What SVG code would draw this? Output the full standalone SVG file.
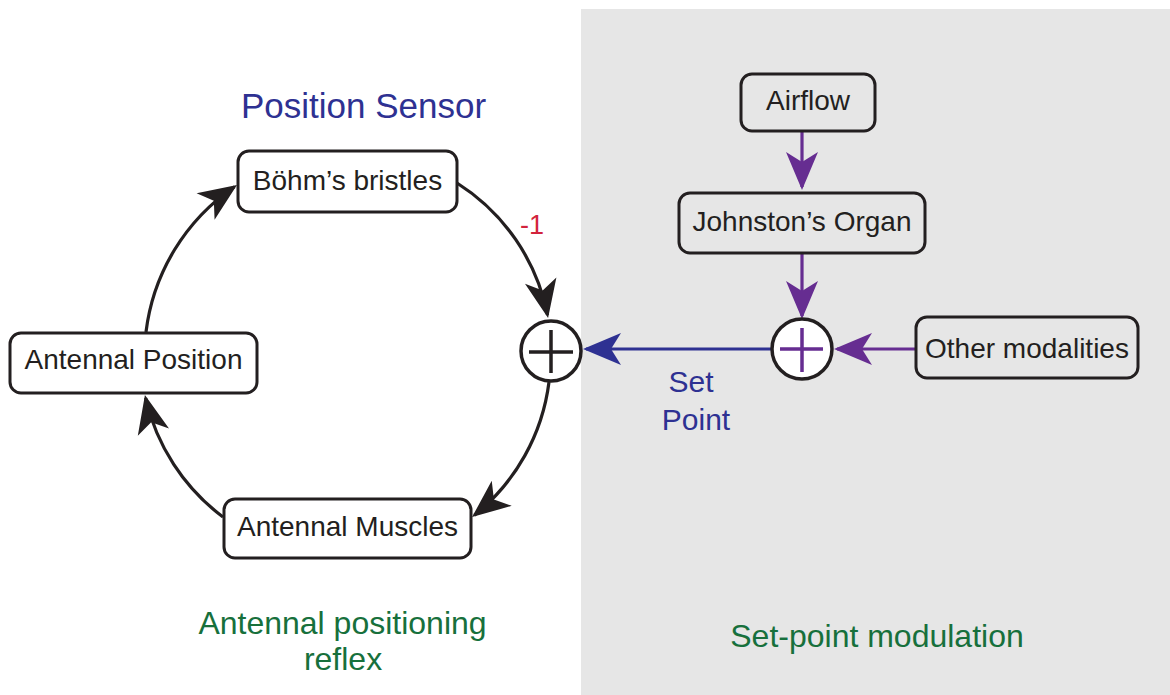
<svg xmlns="http://www.w3.org/2000/svg" width="1170" height="695" viewBox="0 0 1170 695">
<style>
text{font-family:"Liberation Sans",Arial,sans-serif}
.box{fill:#ffffff;stroke:#231f20;stroke-width:3}
.boxg{fill:none;stroke:#231f20;stroke-width:3}
.lbl{font-size:28px;fill:#231f20;text-anchor:middle}
.sum{fill:#ffffff;stroke:#231f20;stroke-width:3.5}
.k{fill:none;stroke:#231f20;stroke-width:3.2}
.blue{fill:#2e3192}
.green{fill:#17703c}
</style>
<defs>
<marker id="ak" markerUnits="userSpaceOnUse" markerWidth="50" markerHeight="40" viewBox="-45 -20 50 40" refX="-3" refY="0" orient="auto" overflow="visible"><path d="M0,0 L-38,-16 L-28,0 L-38,16 Z" fill="#231f20"/></marker>
<marker id="ab" markerUnits="userSpaceOnUse" markerWidth="50" markerHeight="40" viewBox="-45 -20 50 40" refX="-3" refY="0" orient="auto" overflow="visible"><path d="M0,0 L-38,-16 L-28,0 L-38,16 Z" fill="#2e3192"/></marker>
<marker id="ap" markerUnits="userSpaceOnUse" markerWidth="50" markerHeight="40" viewBox="-45 -20 50 40" refX="-3" refY="0" orient="auto" overflow="visible"><path d="M0,0 L-38,-16 L-28,0 L-38,16 Z" fill="#662d91"/></marker>
</defs>
<rect x="0" y="0" width="1170" height="695" fill="#ffffff"/>
<rect id="panel" x="581" y="9" width="589" height="686" fill="#e6e6e6"/>

<g id="connectors">
<path class="k" d="M457,183 A203,203 0 0 1 547.5,315" marker-end="url(#ak)"/>
<path class="k" d="M549,382 A203,203 0 0 1 474.4,515.2" marker-end="url(#ak)"/>
<path class="k" d="M223,517 A206,206 0 0 1 145.6,398" marker-end="url(#ak)"/>
<path class="k" d="M146,332 A206,206 0 0 1 234.5,186.7" marker-end="url(#ak)"/>
<path d="M771,349 L586,349" fill="none" stroke="#2e3192" stroke-width="3.2" marker-end="url(#ab)"/>
<path d="M802,131 L802,187" fill="none" stroke="#662d91" stroke-width="3.2" marker-end="url(#ap)"/>
<path d="M802,253 L802,316" fill="none" stroke="#662d91" stroke-width="3.2" marker-end="url(#ap)"/>
<path d="M916,349 L837,349" fill="none" stroke="#662d91" stroke-width="3.2" marker-end="url(#ap)"/>
<text x="532" y="234" font-size="27" fill="#d2233c" text-anchor="middle">-1</text>
<text x="691" y="392" font-size="30" class="blue" text-anchor="middle">Set</text>
<text x="696" y="430" font-size="30" class="blue" text-anchor="middle">Point</text>
</g>

<g id="bohm"><rect class="box" x="238" y="151" width="219" height="61" rx="11"/><text class="lbl" x="347.5" y="190">Böhm’s bristles</text></g>
<g id="antpos"><rect class="box" x="10" y="333" width="247" height="60" rx="11"/><text class="lbl" x="133.5" y="369">Antennal Position</text></g>
<g id="antmus"><rect class="box" x="224" y="499" width="247" height="59" rx="11"/><text class="lbl" x="347.5" y="536">Antennal Muscles</text></g>
<g id="sum1"><circle class="sum" cx="551" cy="351" r="30"/><path d="M529,352 H573 M551,330 V373" stroke="#231f20" stroke-width="3.5" fill="none"/></g>

<g id="airflow"><rect class="boxg" x="741" y="74" width="134" height="57" rx="11"/><text class="lbl" x="808" y="110">Airflow</text></g>
<g id="johnston"><rect class="boxg" x="679" y="193" width="246" height="60" rx="11"/><text class="lbl" x="802" y="231">Johnston’s Organ</text></g>
<g id="other"><rect class="boxg" x="916" y="317" width="222" height="61" rx="11"/><text class="lbl" x="1027" y="358">Other modalities</text></g>
<g id="sum2"><circle class="sum" cx="802" cy="349" r="30"/><path d="M780,349 H823 M802,328 V372" stroke="#662d91" stroke-width="3.5" fill="none"/></g>

<g id="titles">
<text x="363.5" y="118" font-size="35" class="blue" text-anchor="middle">Position Sensor</text>
<text x="342.5" y="634" font-size="32" class="green" text-anchor="middle">Antennal positioning</text>
<text x="343" y="670" font-size="32" class="green" text-anchor="middle">reflex</text>
<text x="877" y="647" font-size="32" class="green" text-anchor="middle">Set-point modulation</text>
</g>
</svg>
